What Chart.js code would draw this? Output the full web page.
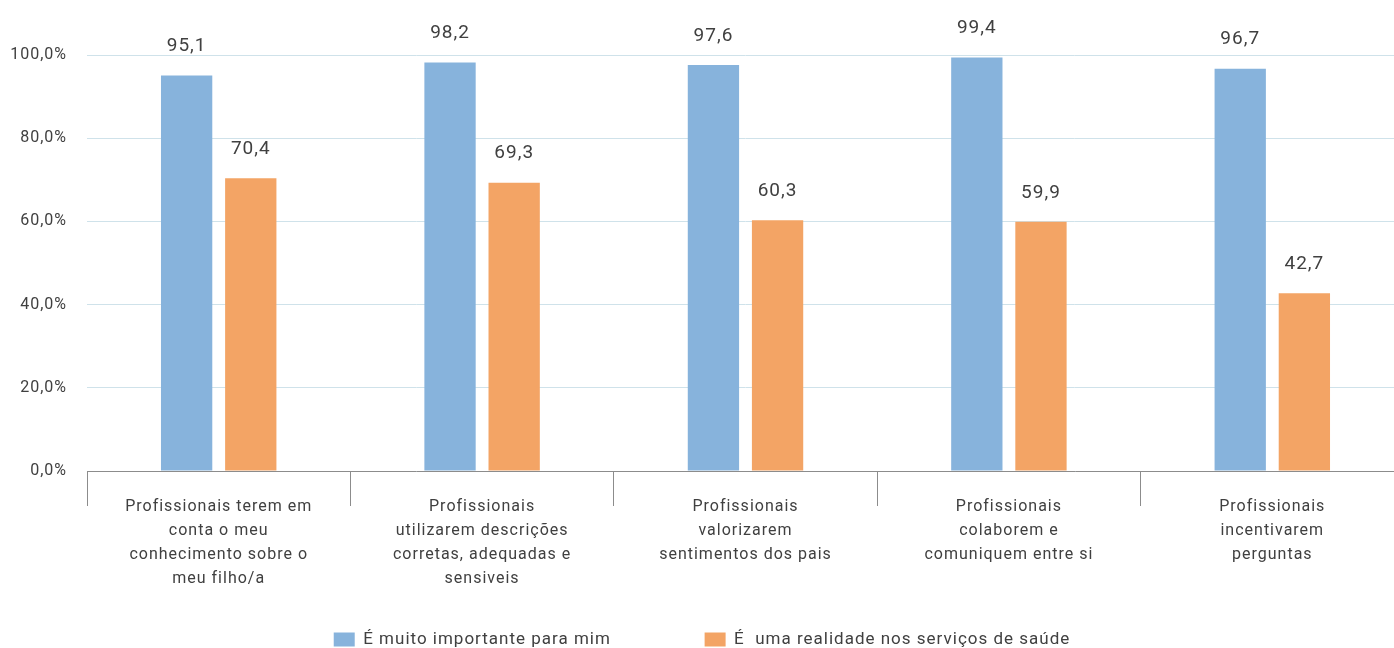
<!DOCTYPE html>
<html>
<head>
<meta charset="utf-8">
<script src="https://cdn.jsdelivr.net/npm/chart.js@4/dist/chart.umd.min.js"></script>
<style>
  html, body { margin: 0; padding: 0; background: #fff; overflow: hidden; }
  #wrap { width: 1404px; height: 648px; }
</style>
</head>
<body>
<div id="wrap"><canvas id="chBars"></canvas></div>
<script>
"use strict";

var categories = [
  ["Profissionais terem em", "conta o meu", "conhecimento sobre o", "meu filho/a"],
  ["Profissionais", "utilizarem descrições", "corretas, adequadas e", "sensiveis"],
  ["Profissionais", "valorizarem", "sentimentos dos pais"],
  ["Profissionais", "colaborem e", "comuniquem entre si"],
  ["Profissionais", "incentivarem", "perguntas"]
];
var seriesNames = ["É muito importante para mim", "É  uma realidade nos serviços de saúde"];
var importante = [95.1, 98.2, 97.6, 99.4, 96.7];
var realidade = [70.4, 69.3, 60.3, 59.9, 42.7];
var yTicks = [0, 20, 40, 60, 80, 100];

var colors = ['#87b3dc', '#f3a465'];
var fontFamily = "Roboto, 'Liberation Sans', sans-serif";
var textColor = '#404040';

function fmt(v, d) {
  return v.toFixed(d).replace('.', ',');
}

// the original text is a bit spaced out
var spacing = {
  id: 'spacing',
  beforeUpdate: function(chart) { chart.ctx.letterSpacing = '1px'; },
  beforeDraw: function(chart) { chart.ctx.letterSpacing = '1px'; }
};

// draws the value above each bar
var valueLabels = {
  id: 'valueLabels',
  afterDatasetsDraw: function(chart) {
    var ctx = chart.ctx;
    ctx.save();
    ctx.font = "19px " + fontFamily;
    ctx.fillStyle = textColor;
    ctx.textAlign = 'center';
    ctx.textBaseline = 'middle';
    chart.data.datasets.forEach(function(ds, i) {
      chart.getDatasetMeta(i).data.forEach(function(bar, j) {
        ctx.fillText(fmt(ds.data[j], 1), bar.x, bar.y - 29);
      });
    });
    ctx.restore();
  }
};

var chartData = {
  labels: categories,
  datasets: [
    { label: seriesNames[0], data: importante, backgroundColor: colors[0] },
    { label: seriesNames[1], data: realidade, backgroundColor: colors[1] }
  ]
};

var options = {
  responsive: true,
  maintainAspectRatio: false,
  animation: false,
  layout: { padding: { top: 55, left: 0, right: 0, bottom: -10 } },
  datasets: { bar: { categoryPercentage: 0.487, barPercentage: 0.8 } },
  plugins: {
    tooltip: { enabled: false },
    legend: {
      position: 'bottom',
      labels: {
        boxWidth: 21, boxHeight: 14, padding: 2,
        color: textColor,
        font: { family: fontFamily, size: 17 },
        generateLabels: function(chart) {
          var items = Chart.defaults.plugins.legend.labels.generateLabels(chart);
          items.forEach(function(it, i) {
            if (i < items.length - 1) it.text += '\u2003\u2003\u2003\u2003\u2003';
          });
          return items;
        }
      }
    }
  },
  scales: {
    x: {
      afterFit: function(scale) { scale.height = 158; },
      grid: { offset: true, drawOnChartArea: false, drawTicks: true, tickLength: 35, color: '#8c8c8c' },
      border: { color: '#8c8c8c', width: 1 },
      ticks: {
        color: textColor, padding: -11, maxRotation: 0, autoSkip: false,
        font: { family: fontFamily, size: 16, lineHeight: 1.5 }
      }
    },
    y: {
      min: 0, max: 100,
      afterFit: function(scale) { scale.width = 87; },
      afterBuildTicks: function(axis) {
        axis.ticks = yTicks.map(function(v) { return { value: v }; });
      },
      grid: { color: '#cfe2ea', lineWidth: 1, drawTicks: false },
      border: { display: false },
      ticks: {
        color: textColor, padding: 20,
        font: { family: fontFamily, size: 16 },
        callback: function(v) { return fmt(v, 1) + '%'; }
      }
    }
  }
};

new Chart(document.getElementById('chBars'), {
  type: 'bar',
  data: chartData,
  options: options,
  plugins: [spacing, valueLabels]
});
</script>
</body>
</html>
